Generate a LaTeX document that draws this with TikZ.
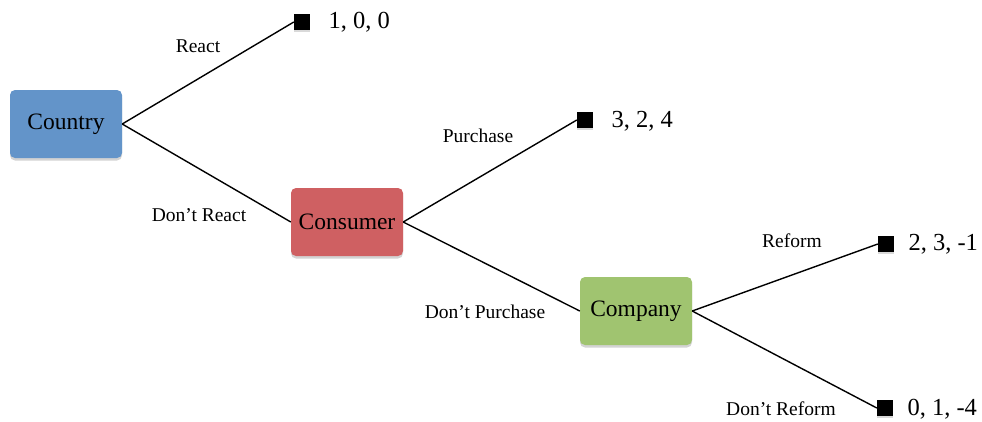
\documentclass[tikz,border=0pt]{standalone}
\usepackage{fontspec}
\setmainfont{Liberation Serif}
\usepackage{tikz}
\usetikzlibrary{shadows}
\usetikzlibrary{arrows,positioning}
\definecolor{boxblue}{RGB}{99,148,201}
\definecolor{boxred}{RGB}{207,96,98}
\definecolor{boxgreen}{RGB}{160,196,112}
\begin{document}
\begin{tikzpicture}[x=1pt,y=-1pt]%
                    \useasboundingbox (0,0) rectangle (982,421);
                    \tikzstyle{player}=[rounded corners=5pt,minimum width=112pt,minimum height=68pt,font=\fontsize{23.5}{25}\selectfont,drop shadow={shadow xshift=0pt,shadow yshift=-2.5pt,opacity=.35}];%%
                    \tikzstyle{leaf}=[fill=black,minimum size=16pt,inner sep=0pt,drop shadow={shadow xshift=0pt,shadow yshift=-1.5pt,opacity=.3}];%%
                    \tikzstyle{pay}=[font=\fontsize{24.5}{26}\selectfont,anchor=west];%%
                    \tikzstyle{act}=[font=\fontsize{19.5}{21}\selectfont];%%
                    \begin{scope}
                        \node[player,fill=boxblue] (country) at (66,124)  {Country}; %%
                        \node[player,fill=boxred] (consumer) at (347,222)  {Consumer}; %%
                        \node[player,fill=boxgreen] (company) at (636,311)  {Company}; %%
                        \node[leaf] (l1) at (302,22)  {}; %%
                        \node[leaf] (l2) at (585,120)  {}; %%
                        \node[leaf] (l3) at (886,244)  {}; %%
                        \node[leaf] (l4) at (885,408)  {}; %%
                    \end{scope}
                        \node[pay] (p1) at (325,22) {1, 0, 0}; %%
                        \node[pay] (p2) at (608,121) {3, 2, 4}; %%
                        \node[pay] (p3) at (905,244) {2, 3, -1}; %%
                        \node[pay] (p4) at (904,409) {0, 1, -4}; %%
                        \draw[line width=1.4pt] (country.east)--(l1.west); %%
                        \draw[line width=1.4pt] (country.east)--(consumer.west); %%
                        \draw[line width=1.4pt] (consumer.east)--(l2.west); %%
                        \draw[line width=1.4pt] (consumer.east)--(company.west); %%
                        \draw[line width=1.4pt] (company.east)--(l3.west); %%
                        \draw[line width=1.4pt] (company.east)--(l4.west); %%
                        \node[act] (a1) at (198,46) {React}; %%
                        \node[act] (a2) at (199,215) {Don't React}; %%
                        \node[act] (a3) at (478,136) {Purchase}; %%
                        \node[act] (a4) at (485,312) {Don't Purchase}; %%
                        \node[act] (a5) at (792,241) {Reform}; %%
                        \node[act] (a6) at (781,409) {Don't Reform}; %%
                    \end{tikzpicture}
\end{document}
